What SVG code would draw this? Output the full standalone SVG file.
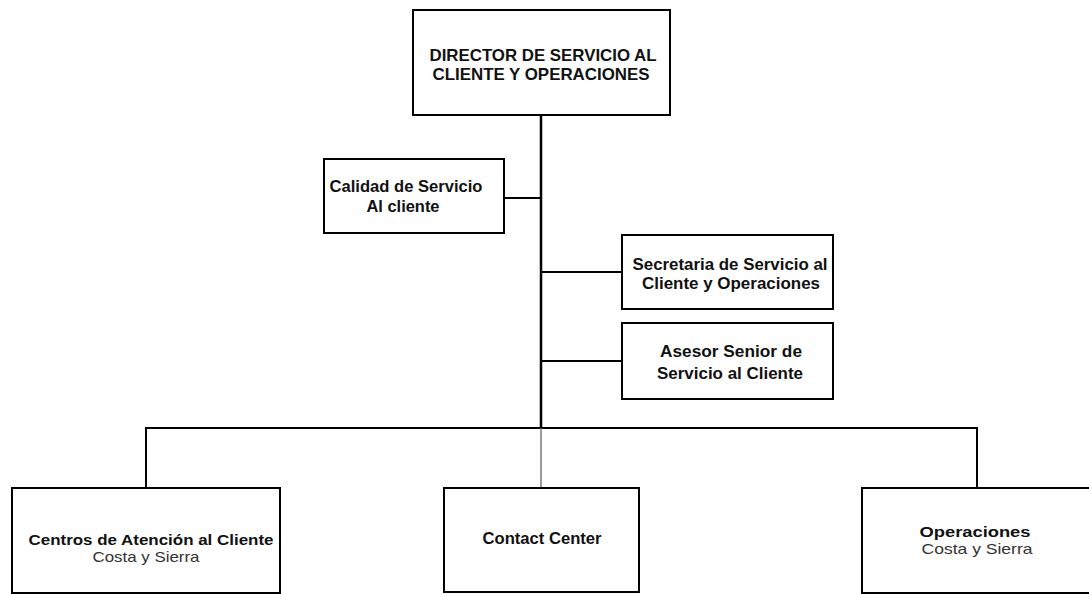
<svg xmlns="http://www.w3.org/2000/svg" width="1089" height="594" viewBox="0 0 1089 594">
  <style>
    .box { fill: #ffffff; stroke: #000000; stroke-width: 2; }
    .link { fill: none; stroke: #000000; stroke-width: 2; }
    .link-thin { fill: none; stroke: #777777; stroke-width: 1.5; }
    .t { font-family: "Liberation Sans", Arial, sans-serif; font-size: 16.5px; fill: #111111; text-anchor: middle; }
    .s { font-size: 15px; }
    .b { font-weight: bold; }
    .r { font-weight: normal; fill: #333333; }
  </style>
  <rect width="1089" height="594" fill="#ffffff"/>

  <!-- connectors -->
  <g id="connectors">
    <line class="link" x1="541" y1="115" x2="541" y2="428" style="stroke-width:2.5"/>
    <line class="link" x1="504" y1="198" x2="541" y2="198"/>
    <line class="link" x1="541" y1="272" x2="622" y2="272"/>
    <line class="link" x1="541" y1="361" x2="622" y2="361"/>
    <polyline class="link" points="146,488 146,428 977,428 977,488"/>
    <line class="link-thin" x1="541" y1="428" x2="541" y2="488"/>
  </g>

  <g id="director">
    <rect class="box" x="413" y="10" width="257" height="105"/>
    <text class="t b" x="543" y="61" textLength="227" lengthAdjust="spacingAndGlyphs">DIRECTOR DE SERVICIO AL</text>
    <text class="t b" x="541" y="80" textLength="217" lengthAdjust="spacingAndGlyphs">CLIENTE Y OPERACIONES</text>
  </g>

  <g id="calidad">
    <rect class="box" x="324" y="159" width="180" height="74"/>
    <text class="t b" x="406" y="192" textLength="153" lengthAdjust="spacingAndGlyphs">Calidad de Servicio</text>
    <text class="t b" x="403" y="212" textLength="73" lengthAdjust="spacingAndGlyphs">Al cliente</text>
  </g>

  <g id="secretaria">
    <rect class="box" x="622" y="235" width="211" height="74"/>
    <text class="t b" x="730" y="270" textLength="195" lengthAdjust="spacingAndGlyphs">Secretaria de Servicio al</text>
    <text class="t b" x="731" y="289" textLength="178" lengthAdjust="spacingAndGlyphs">Cliente y Operaciones</text>
  </g>

  <g id="asesor">
    <rect class="box" x="622" y="323" width="211" height="76"/>
    <text class="t b" x="731" y="357" textLength="142" lengthAdjust="spacingAndGlyphs">Asesor Senior de</text>
    <text class="t b" x="730" y="379" textLength="146" lengthAdjust="spacingAndGlyphs">Servicio al Cliente</text>
  </g>

  <g id="centros">
    <rect class="box" x="12" y="488" width="268" height="105"/>
    <text class="t s b" x="151" y="545" textLength="245" lengthAdjust="spacingAndGlyphs">Centros de Atención al Cliente</text>
    <text class="t s r" x="146" y="562" textLength="107" lengthAdjust="spacingAndGlyphs">Costa y Sierra</text>
  </g>

  <g id="contact-center">
    <rect class="box" x="444" y="488" width="195" height="104"/>
    <text class="t b" x="542" y="544" textLength="119" lengthAdjust="spacingAndGlyphs">Contact Center</text>
  </g>

  <g id="operaciones">
    <rect class="box" x="862" y="488" width="240" height="105"/>
    <text class="t s b" x="975" y="537" textLength="111" lengthAdjust="spacingAndGlyphs">Operaciones</text>
    <text class="t s r" x="977" y="554" textLength="111" lengthAdjust="spacingAndGlyphs">Costa y Sierra</text>
  </g>
</svg>
